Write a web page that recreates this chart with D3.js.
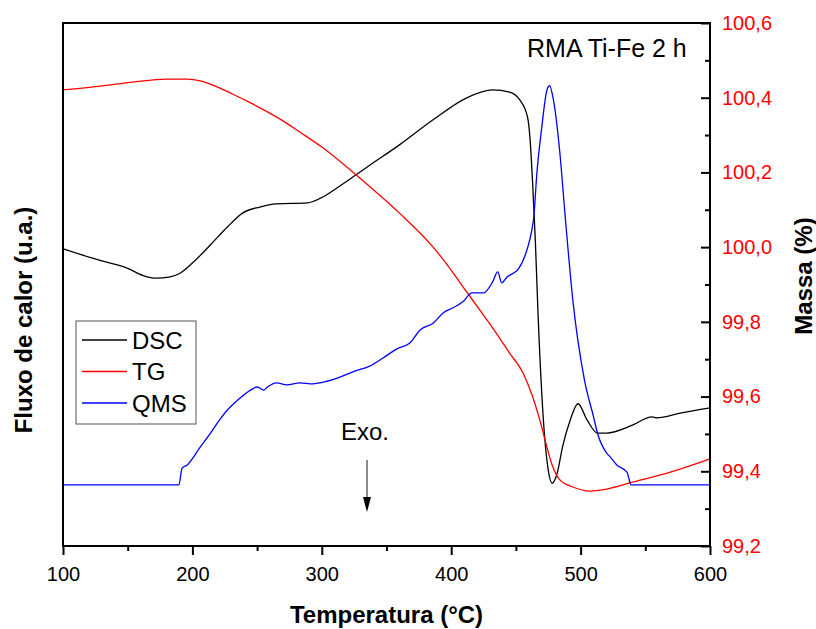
<!DOCTYPE html>
<html>
<head>
<meta charset="utf-8">
<script src="https://cdn.jsdelivr.net/npm/d3@7/dist/d3.min.js"></script>
<style>
  body { margin: 0; background: #fff; }
  svg { font-family: "Liberation Sans", Arial, sans-serif; }
</style>
</head>
<body>
<svg id="chart" width="816" height="629"></svg>
<script>
// DSC heat flow (arbitrary units)
const dscTemp = [100, 130, 150, 162, 172, 182, 190, 200, 214, 227, 239, 252, 265, 289, 299, 312, 337, 360, 386, 412, 432,
    445, 453, 459, 461, 463, 465, 467, 471, 475, 478, 482, 486, 492, 498, 505, 513, 520, 540, 555, 559, 577, 600];
const dscValue = [56.8, 54.5, 53.1, 51.7, 51.2, 51.4, 52.1, 54.1, 57.6, 61.0, 63.7, 64.8, 65.4, 65.6, 66.5, 68.5, 72.8, 76.7, 81.5, 85.7, 87.2,
    86.8, 85.3, 82.0, 77.6, 69.0, 58.5, 45.1, 25.0, 14.5, 12.0, 14.0, 18.9, 24.1, 27.2, 24.1, 21.6, 21.6, 23.1, 24.7, 24.5, 25.4, 26.4];

// TG mass (%)
const tgTemp = [100, 129, 154, 180, 196, 206, 219, 231, 245, 258, 270, 283, 300, 330, 360, 386, 394, 412, 422, 430,
    445, 455.5, 463, 468.5, 472.5, 478, 484, 494, 507, 521, 540, 567, 600];
const tgValue = [100.421, 100.431, 100.442, 100.450, 100.450, 100.445, 100.429, 100.410, 100.386, 100.362, 100.338, 100.308,
    100.268, 100.183, 100.091, 100.000, 99.966, 99.880, 99.832, 99.794, 99.717, 99.663, 99.599, 99.537, 99.484, 99.417,
    99.377, 99.358, 99.347, 99.353, 99.371, 99.395, 99.433];

// QMS signal (arbitrary units)
const qmsTemp = [100, 189.6, 192, 196, 206, 214, 221, 227, 235, 245, 250, 255, 258, 265, 273, 283, 293, 304, 312, 324,
    337, 347, 358, 368, 376, 386, 394, 401, 409, 416, 425, 432, 436, 439, 443, 452, 459, 462, 464, 466,
    470, 474, 476, 479, 484, 488, 494, 503, 510, 513, 520, 523, 528, 536, 537, 539, 600];
const qmsValue = [11.7, 11.7, 14.9, 15.5, 18.9, 21.6, 24.1, 26.0, 27.9, 29.8, 30.4, 29.8, 30.4, 31.2, 30.8, 31.2, 31.0, 31.5, 32.1, 33.3,
    34.4, 35.9, 37.7, 38.8, 41.3, 42.6, 44.6, 45.5, 46.7, 48.4, 48.4, 50.5, 52.4, 50.3, 51.4, 53.0, 57.0, 60.0, 63.3, 70.6,
    80.1, 87.2, 88.0, 85.3, 75.1, 63.3, 47.0, 31.7, 24.7, 21.6, 17.8, 17.0, 15.5, 14.1, 13.2, 11.7, 11.7];

const xTicks = [100, 200, 300, 400, 500, 600];
const xMinorTicks = [150, 250, 350, 450, 550];
const massTicks = [99.2, 99.4, 99.6, 99.8, 100.0, 100.2, 100.4, 100.6];
const massMinorTicks = [99.3, 99.5, 99.7, 99.9, 100.1, 100.3, 100.5];

const legendItems = [
    {name: "DSC", color: "#000"},
    {name: "TG", color: "#ff0000"},
    {name: "QMS", color: "#0000ff"}
];

const plot = {left: 63, right: 710, top: 23, bottom: 546};
const svg = d3.select("#chart");

const x = d3.scaleLinear().domain([100, 600]).range([plot.left, plot.right]);
const yFlux = d3.scaleLinear().domain([0, 100]).range([plot.bottom, plot.top]);
const yMass = d3.scaleLinear().domain([99.2, 100.6]).range([plot.bottom, plot.top]);

const comma = d3.formatLocale({decimal: ",", thousands: ".", grouping: [3], currency: ["", ""]});

// series
const zip = (xs, ys) => xs.map((t, i) => [t, ys[i]]);
const series = [
    {pts: zip(dscTemp, dscValue), y: yFlux, color: "#000"},
    {pts: zip(tgTemp, tgValue), y: yMass, color: "#ff0000"},
    {pts: zip(qmsTemp, qmsValue), y: yFlux, color: "#0000ff"}
];

svg.append("g")
    .selectAll("path")
    .data(series)
    .join("path")
    .attr("fill", "none")
    .attr("stroke", d => d.color)
    .attr("stroke-width", 1.3)
    .attr("d", s => d3.line()
        .x(d => x(d[0]))
        .y(d => s.y(d[1]))
        .curve(d3.curveMonotoneX)(s.pts));

// bottom axis
const xAxis = svg.append("g")
    .attr("transform", `translate(0,${plot.bottom})`)
    .call(d3.axisBottom(x).tickValues(xTicks).tickSize(9).tickPadding(12).tickFormat(d3.format("d")));
svg.append("g")
    .attr("transform", `translate(0,${plot.bottom})`)
    .call(d3.axisBottom(x).tickValues(xMinorTicks).tickSize(5).tickFormat(""));

// right axis, ticks pointing inward
const yAxis = svg.append("g")
    .attr("transform", `translate(${plot.right},0)`)
    .call(d3.axisRight(yMass).tickValues(massTicks).tickSize(-9).tickPadding(12).tickFormat(comma.format(".1f")));
svg.append("g")
    .attr("transform", `translate(${plot.right},0)`)
    .call(d3.axisRight(yMass).tickValues(massMinorTicks).tickSize(-5).tickFormat(""));

svg.selectAll(".domain").remove();
svg.selectAll(".tick line").attr("stroke", "#000").attr("stroke-width", 2);
xAxis.selectAll("text").attr("font-size", 20).attr("fill", "#000").attr("font-family", null);
yAxis.selectAll("text").attr("font-size", 20).attr("fill", "#ff0000").attr("font-family", null);

// frame
svg.append("rect")
    .attr("x", plot.left)
    .attr("y", plot.top)
    .attr("width", plot.right - plot.left)
    .attr("height", plot.bottom - plot.top)
    .attr("fill", "none")
    .attr("stroke", "#000")
    .attr("stroke-width", 2);

// axis titles
svg.append("text")
    .attr("x", (plot.left + plot.right) / 2)
    .attr("y", 623)
    .attr("text-anchor", "middle")
    .attr("font-size", 24)
    .attr("font-weight", "bold")
    .text("Temperatura (°C)");

svg.append("text")
    .attr("transform", "translate(32,320) rotate(-90)")
    .attr("text-anchor", "middle")
    .attr("font-size", 24)
    .attr("font-weight", "bold")
    .text("Fluxo de calor (u.a.)");

svg.append("text")
    .attr("transform", "translate(812,276) rotate(-90)")
    .attr("text-anchor", "middle")
    .attr("font-size", 24)
    .attr("font-weight", "bold")
    .text("Massa (%)");

// sample label
svg.append("text")
    .attr("x", 527)
    .attr("y", 57)
    .attr("font-size", 25)
    .text("RMA Ti-Fe 2 h");

// Exo. arrow
svg.append("text")
    .attr("x", 341)
    .attr("y", 440)
    .attr("font-size", 24)
    .text("Exo.");
svg.append("line")
    .attr("x1", 367).attr("x2", 367)
    .attr("y1", 460).attr("y2", 500)
    .attr("stroke", "#666")
    .attr("stroke-width", 1.5);
svg.append("path")
    .attr("d", "M363,497 L371,497 L367,512 Z")
    .attr("fill", "#000");

// legend
const legend = svg.append("g").attr("transform", "translate(76,321)");
legend.append("rect")
    .attr("width", 120)
    .attr("height", 103)
    .attr("fill", "#fff")
    .attr("stroke", "#555")
    .attr("stroke-width", 1);
const rows = legend.selectAll("g.row")
    .data(legendItems)
    .join("g")
    .attr("class", "row")
    .attr("transform", (d, i) => `translate(0,${19 + i * 31.5})`);
rows.append("line")
    .attr("x1", 6).attr("x2", 51)
    .attr("stroke", d => d.color)
    .attr("stroke-width", 1.3);
rows.append("text")
    .attr("x", 56)
    .attr("dy", "0.36em")
    .attr("font-size", 24)
    .text(d => d.name);
</script>
</body>
</html>
